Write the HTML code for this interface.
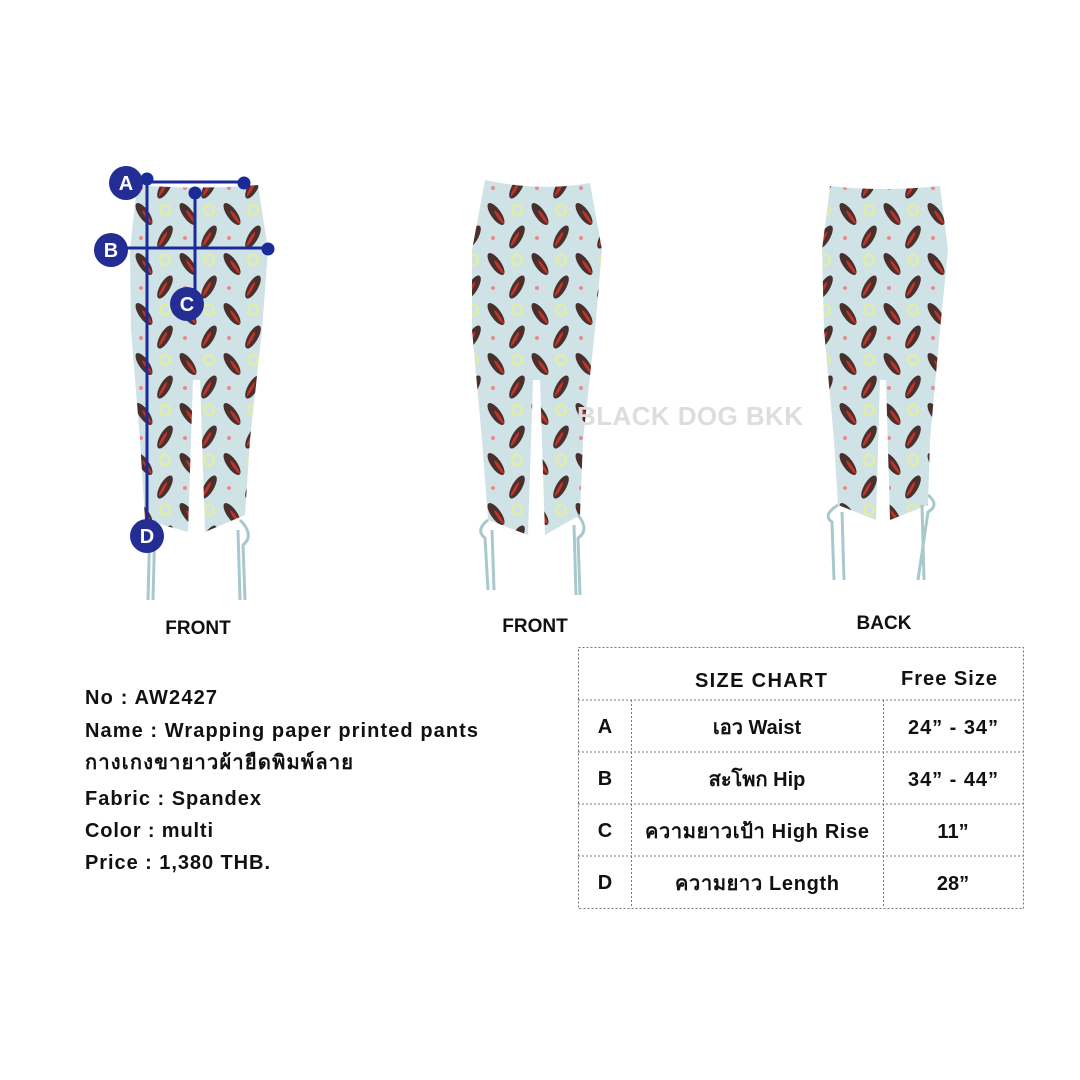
<!DOCTYPE html>
<html><head><meta charset="utf-8"><style>
body{margin:0;background:#fff;width:1080px;height:1080px;overflow:hidden;font-family:"Liberation Sans","DejaVu Sans",sans-serif;}
</style></head><body>
<svg width="1080" height="1080" style="position:absolute;left:0;top:0">
<defs>
<pattern id="p" width="44" height="50" patternUnits="userSpaceOnUse">
<rect width="44" height="50" fill="#cfe3e7"/>
<ellipse cx="12" cy="14" rx="5" ry="13" fill="#4a302c" transform="rotate(-35 12 14)"/>
<ellipse cx="15" cy="17" rx="1.5" ry="8" fill="#c2332a" transform="rotate(-35 15 17)"/>
<ellipse cx="33" cy="37" rx="5" ry="13" fill="#4a302c" transform="rotate(30 33 37)"/>
<ellipse cx="31" cy="39" rx="1.5" ry="8" fill="#c2332a" transform="rotate(30 31 39)"/>
<circle cx="33" cy="10" r="5" fill="none" stroke="#e6ee9a" stroke-width="2"/>
<circle cx="9" cy="38" r="2" fill="#e88"/>
</pattern>
</defs>
<g fill="url(#p)">
<path d="M137 185 Q198 190 258 185 L268 250 L262 330 L250 440 L245 515 L205 532 L200 380 L193 380 L188 532 L145 520 L140 440 L131 330 L130 250 Z"/>
<path d="M485 180 Q540 192 590 183 L602 250 L595 330 L583 440 L580 515 L545 535 L540 380 L533 380 L528 535 L488 520 L482 440 L472 330 L472 250 Z"/>
<path d="M830 186 Q885 192 940 186 L948 250 L940 330 L930 440 L928 505 L890 520 L886 380 L880 380 L876 520 L838 505 L834 440 L824 330 L822 250 Z"/>
</g>
<g stroke="#a8c8cc" stroke-width="3" fill="none">
<path d="M150 520 L148 600 M155 520 L153 600 M240 520 Q255 535 243 545 L245 600 M238 530 L240 600"/>
<path d="M488 520 Q475 530 485 538 L488 590 M492 530 L494 590 M578 515 Q590 530 578 538 L580 595 M574 525 L576 595"/>
<path d="M838 505 Q822 515 832 522 L834 580 M842 512 L844 580 M928 495 Q940 505 928 512 L918 580 M922 505 L924 580"/>
</g>
<g stroke="#1b2a98" stroke-width="3" fill="#1b2a98">
<line x1="147" y1="182" x2="244" y2="182"/>
<line x1="147" y1="182" x2="147" y2="535"/>
<line x1="122" y1="248" x2="268" y2="248"/>
<line x1="195" y1="194" x2="195" y2="300"/>
<circle cx="147" cy="179" r="5"/><circle cx="244" cy="183" r="5"/>
<circle cx="268" cy="249" r="5"/><circle cx="195" cy="193" r="5"/>
</g>
<g fill="#232d94">
<circle cx="126" cy="183" r="17"/><circle cx="111" cy="250" r="17"/>
<circle cx="187" cy="304" r="17"/><circle cx="147" cy="536" r="17"/>
</g>
<g fill="#fff" font-family="Liberation Sans" font-weight="bold" font-size="20" text-anchor="middle">
<text x="126" y="190">A</text><text x="111" y="257">B</text><text x="187" y="311">C</text><text x="147" y="543">D</text>
</g>
<text x="690" y="425" font-family="Liberation Sans" font-weight="bold" font-size="26" fill="#ddd" text-anchor="middle" textLength="226">BLACK DOG BKK</text>
<g stroke="#777" stroke-width="1" stroke-dasharray="2,2" fill="none">
<rect x="578.5" y="647.5" width="445" height="261"/>
<line x1="578" y1="700" x2="1024" y2="700"/>
<line x1="578" y1="752" x2="1024" y2="752"/>
<line x1="578" y1="804" x2="1024" y2="804"/>
<line x1="578" y1="856" x2="1024" y2="856"/>
<line x1="631.5" y1="700" x2="631.5" y2="908"/>
<line x1="883.5" y1="700" x2="883.5" y2="908"/>
</g>
<g font-family="Liberation Sans,DejaVu Sans,sans-serif" font-weight="bold" font-size="20" fill="#111" text-anchor="middle">
<text x="761" y="687" textLength="132">SIZE CHART</text><text x="949" y="685" textLength="96">Free Size</text>
<text x="605" y="733">A</text><text x="757" y="734">เอว Waist</text><text x="953" y="734" textLength="90">24” - 34”</text>
<text x="605" y="785">B</text><text x="757" y="786">สะโพก Hip</text><text x="953" y="786" textLength="90">34” - 44”</text>
<text x="605" y="837">C</text><text x="757" y="838" textLength="224">ความยาวเป้า High Rise</text><text x="953" y="838">11”</text>
<text x="605" y="889">D</text><text x="757" y="890" textLength="164">ความยาว Length</text><text x="953" y="890">28”</text>
<text x="198" y="634" font-size="19">FRONT</text>
<text x="535" y="632" font-size="19">FRONT</text>
<text x="884" y="629" font-size="19">BACK</text>
</g>
<g font-family="Liberation Sans,DejaVu Sans,sans-serif" font-weight="bold" font-size="20" fill="#111">
<text x="85" y="704" textLength="132">No : AW2427</text>
<text x="85" y="737" textLength="393">Name : Wrapping paper printed pants</text>
<text x="85" y="769" textLength="268">กางเกงขายาวผ้ายืดพิมพ์ลาย</text>
<text x="85" y="805" textLength="176">Fabric : Spandex</text>
<text x="85" y="837" textLength="128">Color : multi</text>
<text x="85" y="869" textLength="185">Price : 1,380 THB.</text>
</g>
</svg>
</body></html>
